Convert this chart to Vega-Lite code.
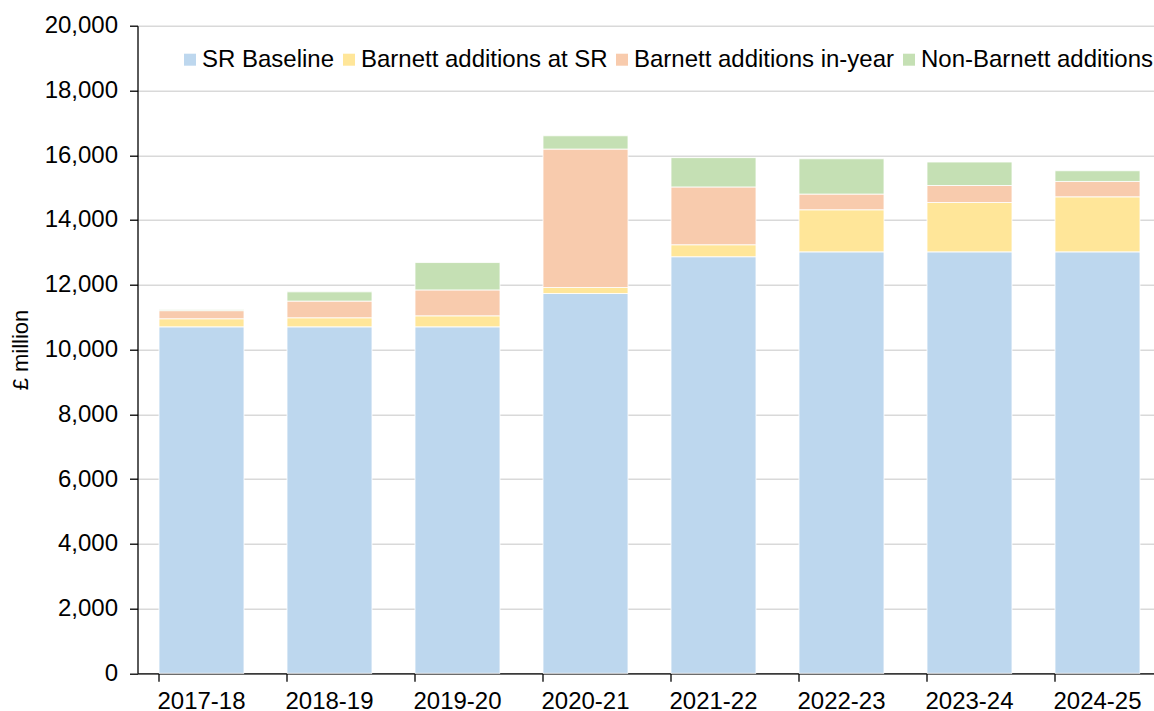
{
  "$schema": "https://vega.github.io/schema/vega-lite/v6.json",
  "autosize": {"type": "none"},
  "padding": {"left": 137.5, "top": 25.7, "right": 0, "bottom": 38},
  "width": 1024,
  "height": 647.6,
  "background": "white",
  "config": {
    "font": "Liberation Sans",
    "view": {"stroke": null},
    "axis": {
      "labelFont": "Liberation Sans",
      "labelFontSize": 24,
      "labelColor": "#000000",
      "titleFont": "Liberation Sans",
      "titleColor": "#000000",
      "domainColor": "#000000",
      "domainWidth": 1.3,
      "tickColor": "#000000",
      "tickWidth": 1.3,
      "tickSize": 8
    }
  },
  "data": {
    "values": [
      {"year": "2017-18", "series": "SR Baseline", "ord": 1, "value": 10700},
      {"year": "2017-18", "series": "Barnett additions at SR", "ord": 2, "value": 250},
      {"year": "2017-18", "series": "Barnett additions in-year", "ord": 3, "value": 250},
      {"year": "2017-18", "series": "Non-Barnett additions", "ord": 4, "value": 25},
      {"year": "2018-19", "series": "SR Baseline", "ord": 1, "value": 10700},
      {"year": "2018-19", "series": "Barnett additions at SR", "ord": 2, "value": 280},
      {"year": "2018-19", "series": "Barnett additions in-year", "ord": 3, "value": 515},
      {"year": "2018-19", "series": "Non-Barnett additions", "ord": 4, "value": 285},
      {"year": "2019-20", "series": "SR Baseline", "ord": 1, "value": 10700},
      {"year": "2019-20", "series": "Barnett additions at SR", "ord": 2, "value": 340},
      {"year": "2019-20", "series": "Barnett additions in-year", "ord": 3, "value": 800},
      {"year": "2019-20", "series": "Non-Barnett additions", "ord": 4, "value": 845},
      {"year": "2020-21", "series": "SR Baseline", "ord": 1, "value": 11730},
      {"year": "2020-21", "series": "Barnett additions at SR", "ord": 2, "value": 185},
      {"year": "2020-21", "series": "Barnett additions in-year", "ord": 3, "value": 4275},
      {"year": "2020-21", "series": "Non-Barnett additions", "ord": 4, "value": 410},
      {"year": "2021-22", "series": "SR Baseline", "ord": 1, "value": 12865},
      {"year": "2021-22", "series": "Barnett additions at SR", "ord": 2, "value": 370},
      {"year": "2021-22", "series": "Barnett additions in-year", "ord": 3, "value": 1785},
      {"year": "2021-22", "series": "Non-Barnett additions", "ord": 4, "value": 905},
      {"year": "2022-23", "series": "SR Baseline", "ord": 1, "value": 13015},
      {"year": "2022-23", "series": "Barnett additions at SR", "ord": 2, "value": 1300},
      {"year": "2022-23", "series": "Barnett additions in-year", "ord": 3, "value": 485},
      {"year": "2022-23", "series": "Non-Barnett additions", "ord": 4, "value": 1090},
      {"year": "2023-24", "series": "SR Baseline", "ord": 1, "value": 13015},
      {"year": "2023-24", "series": "Barnett additions at SR", "ord": 2, "value": 1525},
      {"year": "2023-24", "series": "Barnett additions in-year", "ord": 3, "value": 525},
      {"year": "2023-24", "series": "Non-Barnett additions", "ord": 4, "value": 725},
      {"year": "2024-25", "series": "SR Baseline", "ord": 1, "value": 13015},
      {"year": "2024-25", "series": "Barnett additions at SR", "ord": 2, "value": 1700},
      {"year": "2024-25", "series": "Barnett additions in-year", "ord": 3, "value": 475},
      {"year": "2024-25", "series": "Non-Barnett additions", "ord": 4, "value": 330}
    ]
  },
  "mark": {"type": "bar", "stroke": "white", "strokeWidth": 0.8},
  "encoding": {
    "x": {
      "field": "year",
      "type": "nominal",
      "sort": null,
      "scale": {"paddingInner": 0.336, "paddingOuter": 0.168},
      "axis": {
        "title": null,
        "labelAngle": 0,
        "labelPadding": 8,
        "bandPosition": 0,
        "grid": false
      }
    },
    "y": {
      "field": "value",
      "type": "quantitative",
      "aggregate": "sum",
      "stack": "zero",
      "scale": {"domain": [0, 20000], "nice": false},
      "axis": {
        "title": "£ million",
        "titleFontSize": 22,
        "titleFontWeight": "normal",
        "titlePadding": 12,
        "values": [0, 2000, 4000, 6000, 8000, 10000, 12000, 14000, 16000, 18000, 20000],
        "format": ",.0f",
        "labelPadding": 12,
        "grid": true,
        "gridColor": "#D9D9D9",
        "gridWidth": 1.4
      }
    },
    "color": {
      "field": "series",
      "type": "nominal",
      "scale": {
        "domain": ["SR Baseline", "Barnett additions at SR", "Barnett additions in-year", "Non-Barnett additions"],
        "range": ["#BDD7EE", "#FFE699", "#F8CBAD", "#C5E0B4"]
      },
      "legend": {
        "title": null,
        "orient": "none",
        "direction": "horizontal",
        "legendX": 40.5,
        "legendY": 22,
        "padding": 0,
        "symbolType": "square",
        "symbolSize": 144,
        "symbolStrokeWidth": 0,
        "symbolOpacity": 1,
        "labelFont": "Liberation Sans",
        "labelFontSize": 24,
        "labelColor": "#000000",
        "labelOffset": 0,
        "labelLimit": 0,
        "columnPadding": 2
      }
    },
    "order": {"field": "ord", "type": "quantitative", "sort": "ascending"}
  }
}
